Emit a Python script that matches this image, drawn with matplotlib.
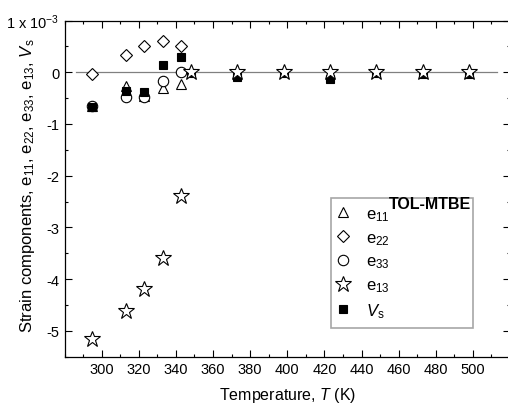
import matplotlib
matplotlib.use('Agg')
import matplotlib.pyplot as plt
import numpy as np
from matplotlib.ticker import MultipleLocator

plt.rcParams['font.family'] = ['Liberation Sans', 'DejaVu Sans']
plt.rcParams['mathtext.fontset'] = 'custom'
plt.rcParams['mathtext.rm'] = 'Liberation Sans'
plt.rcParams['mathtext.it'] = 'Liberation Sans:italic'

# temperatures (K)
temp_low = [295, 313, 323, 333, 343]
temp_all = [295, 313, 323, 333, 343, 348, 373, 398, 423, 448, 473, 498]

# strain components (x 1e-3)
e11 = [-0.66, -0.26, -0.45, -0.31, -0.22]
e22 = [-0.03, 0.33, 0.50, 0.61, 0.50]
e33 = [-0.66, -0.47, -0.48, -0.17, 0.00]
e13 = [-5.15, -4.61, -4.19, -3.59, -2.39, 0.0, 0.0, 0.0, 0.0, 0.0, 0.0, 0.0]
vs = [-0.68, -0.36, -0.38, 0.14, 0.29, -0.02, -0.10, -0.01, -0.13, -0.02, -0.03, -0.04]

fig = plt.figure(figsize=(5.08, 4.06), dpi=100)
ax = fig.add_axes([0.127, 0.119, 0.877, 0.828])

ax.plot([286, 513], [0, 0], color='#808080', lw=0.9, zorder=1)

mk = dict(ls='none', mec='black', mew=0.8)
ax.plot(temp_low, e11, marker='^', ms=7.5, mfc='white', label='e$_{11}$', zorder=3, **mk)
ax.plot(temp_low, e22, marker='D', ms=6.2, mfc='white', label='e$_{22}$', zorder=3, **mk)
ax.plot(temp_low, e33, marker='o', ms=7.5, mfc='white', label='e$_{33}$', zorder=3, **mk)
ax.plot(temp_all, e13, marker='*', ms=12, mfc='white', label='e$_{13}$', zorder=5, **mk)
ax.plot(temp_all, vs, marker='s', ms=6, mfc='black', label='$V_{\\rm s}$', zorder=4, **mk)

ax.set_xlim(280, 520)
ax.set_ylim(-5.5, 1)
ax.xaxis.set_minor_locator(MultipleLocator(10))
ax.yaxis.set_minor_locator(MultipleLocator(0.5))
ax.set_xticks(np.arange(300, 501, 20))
ax.set_yticks([-5, -4, -3, -2, -1, 0, 1])
ax.set_yticklabels(['-5', '-4', '-3', '-2', '-1', '0', '1 x 10$^{-3}$'])

ax.tick_params(which='both', direction='in', top=True, right=True,
               labelsize=10.5, width=0.8)
ax.tick_params(which='major', length=5)
ax.tick_params(which='minor', length=2.5)
for s in ax.spines.values():
    s.set_linewidth(0.9)

ax.set_xlabel('Temperature, $T$ (K)', fontsize=11.5, labelpad=6.5)
ax.set_ylabel('Strain components, e$_{11}$, e$_{22}$, e$_{33}$, e$_{13}$, $V_{\\rm s}$',
              fontsize=12)
ax.yaxis.set_label_coords(-0.062, 0.512)

leg = ax.legend(loc='lower left', bbox_to_anchor=(0.598, 0.085, 0.319, 0.4),
                mode='expand', fontsize=12, frameon=True, fancybox=False,
                edgecolor='#909090', handlelength=0.5, handletextpad=1.1,
                labelspacing=0.42, borderpad=0.5, borderaxespad=0)
leg.get_frame().set_linewidth(1.2)
ax.text(0.913, 0.477, 'TOL-MTBE', transform=ax.transAxes, fontsize=11.5,
        fontweight='bold', ha='right', va='top', zorder=10)

fig.savefig('out.png', dpi=100)
